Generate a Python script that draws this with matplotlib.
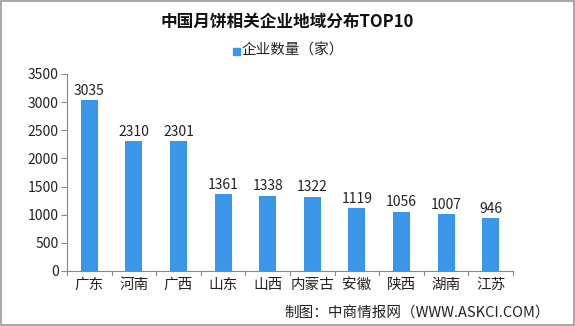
import matplotlib
matplotlib.use("Agg")
import matplotlib.pyplot as plt
from matplotlib.patches import Rectangle

plt.rcParams['font.family'] = ['Noto Sans CJK SC', 'DejaVu Sans']

categories = ["广东", "河南", "广西", "山东", "山西", "内蒙古", "安徽", "陕西", "湖南", "江苏"]
values = [3035, 2310, 2301, 1361, 1338, 1322, 1119, 1056, 1007, 946]
yticks = [0, 500, 1000, 1500, 2000, 2500, 3000, 3500]

bar_color = "#3A96E8"

fig = plt.figure(figsize=(5.75, 3.26), dpi=100)
ax = fig.add_axes([67/575, 1 - 271/326, (513-67)/575, (271-74)/326])

x = list(range(len(categories)))
bars = ax.bar(x, values, width=0.38, color=bar_color, zorder=2)
for xi, v in zip(x, values):
    ax.text(xi, v + 40, str(v), ha='center', va='bottom', fontsize=10, color='#222222')

ax.set_xlim(-0.5, len(categories) - 0.5)
ax.set_ylim(0, 3500)
ax.set_yticks(yticks)
ax.set_yticklabels([str(t) for t in yticks], fontsize=10, color='#222222')
ax.set_xticks(x)
ax.set_xticklabels(categories, fontsize=10.5, color='#222222')
ax.tick_params(axis='x', length=0, pad=5)
ax.tick_params(axis='y', length=4, direction='out', color='#888888', pad=2)
for b in [i - 0.5 for i in range(len(categories) + 1)]:
    ax.plot([b, b], [0, -0.018], transform=ax.get_xaxis_transform(), color='#888888',
            lw=0.8, clip_on=False)
for s in ['top', 'right']:
    ax.spines[s].set_visible(False)
ax.spines['left'].set_color('#888888')
ax.spines['bottom'].set_color('#888888')

fig.text(0.5, 1 - 22/326, "中国月饼相关企业地域分布TOP10", ha='center', va='center',
         fontsize=12, fontweight='bold', color='#111111')
# legend
fig.patches.append(Rectangle((233/575, 1 - 55/326), 7/575, 7/326, transform=fig.transFigure,
                             color=bar_color, figure=fig))
fig.text(242/575, 1 - 51/326, "企业数量（家）", ha='left', va='center', fontsize=10.5, color='#222222')

fig.text(550/575, 1 - 313/326, "制图：中商情报网（WWW.ASKCI.COM）", ha='right', va='center',
         fontsize=10.5, color='#222222')

# figure border
fig.patches.append(Rectangle((0.001, 0.002), 0.997, 0.996, transform=fig.transFigure,
                             fill=False, edgecolor='#999999', lw=1.2, figure=fig))

fig.savefig("out.png", dpi=100)
